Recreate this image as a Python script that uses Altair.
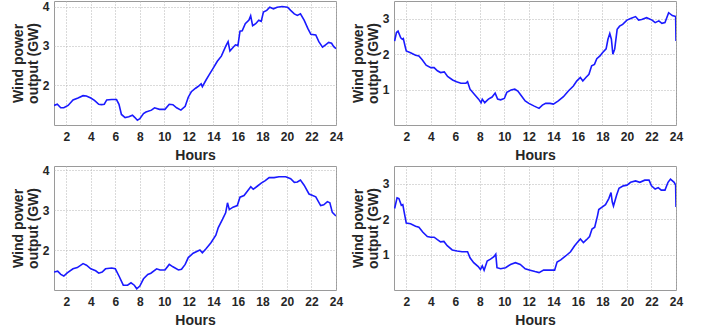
import altair as alt
import pandas as pd

# ---------------- data ----------------
x_ticks = [2, 4, 6, 8, 10, 12, 14, 16, 18, 20, 22, 24]

# Panel 1 (top-left)
p1_hours = [1.0, 1.27, 1.55, 1.8, 2.15, 2.55, 2.96, 3.37, 3.64, 4.0, 4.3, 4.65, 4.87, 5.1,
            5.3, 5.7, 6.1, 6.3, 6.5, 6.8, 7.1, 7.4, 7.6, 7.8, 8.0, 8.3, 8.5, 8.95, 9.2,
            9.6, 10.05, 10.4, 10.7, 11.0, 11.35, 11.7, 11.95, 12.2, 12.55, 12.82, 13.0,
            13.1, 13.4, 13.65, 14.0, 14.32, 14.65, 15.0, 15.2, 15.35, 15.6, 15.8, 16.0,
            16.17, 16.35, 16.6, 16.9, 17.04, 17.2, 17.45, 17.7, 17.9, 18.08, 18.35, 18.6,
            18.9, 19.2, 19.6, 20.05, 20.3, 20.6, 20.85, 21.1, 21.4, 21.7, 21.95, 22.35,
            22.6, 22.9, 23.15, 23.4, 23.64, 23.8, 24.0]
p1_gw = [1.48, 1.51, 1.42, 1.42, 1.48, 1.62, 1.67, 1.73, 1.72, 1.67, 1.61, 1.51, 1.50, 1.51,
         1.62, 1.63, 1.63, 1.51, 1.25, 1.17, 1.19, 1.23, 1.17, 1.10, 1.14, 1.27, 1.31, 1.36, 1.42,
         1.38, 1.38, 1.51, 1.50, 1.42, 1.36, 1.46, 1.69, 1.83, 1.92, 1.98, 2.03,
         1.96, 2.13, 2.26, 2.44, 2.61, 2.74, 2.99, 3.11, 2.87, 2.96, 3.03, 3.01,
         3.38, 3.39, 3.57, 3.66, 3.77, 3.52, 3.57, 3.66, 3.63, 3.87, 3.91, 3.99,
         3.95, 3.99, 4.01, 3.99, 3.91, 3.82, 3.78, 3.82, 3.66, 3.45, 3.30, 3.28,
         3.11, 2.97, 3.03, 3.09, 3.07, 2.99, 2.93]

# Panel 2 (top-right)
p2_hours = [1.05, 1.2, 1.33, 1.55, 1.68, 1.76, 1.9, 2.0, 2.35, 2.76, 3.03, 3.3, 3.62, 4.0,
            4.27, 4.54, 4.8, 5.1, 5.37, 5.78, 6.1, 6.46, 6.87, 7.0, 7.2, 7.55, 7.9, 8.1,
            8.2, 8.4, 8.7, 9.0, 9.25, 9.45, 9.7, 10.0, 10.2, 10.55, 10.85, 11.1, 11.4,
            11.7, 12.0, 12.4, 12.83, 13.1, 13.37, 13.73, 14.0, 14.4, 14.82, 15.22, 15.63,
            15.9, 16.2, 16.4, 16.65, 16.9, 17.12, 17.35, 17.54, 17.8, 18.0, 18.3, 18.45,
            18.6, 18.73, 18.85, 19.0, 19.2, 19.4, 19.65, 20.0, 20.35, 20.7, 20.95, 21.2,
            21.6, 22.05, 22.3, 22.6, 22.85, 23.1, 23.4, 23.7, 23.97, 24.0]
p2_gw = [2.37, 2.61, 2.65, 2.46, 2.42, 2.44, 2.23, 2.09, 2.04, 1.97, 1.95, 1.84, 1.69, 1.62,
         1.62, 1.53, 1.48, 1.50, 1.37, 1.27, 1.22, 1.18, 1.18, 1.22, 1.01, 0.87, 0.73, 0.63,
         0.73, 0.63, 0.73, 0.79, 0.90, 0.73, 0.71, 0.75, 0.92, 0.99, 1.01, 0.96, 0.82,
         0.68, 0.61, 0.54, 0.47, 0.56, 0.61, 0.61, 0.59, 0.68, 0.80, 0.96, 1.10,
         1.24, 1.34, 1.24, 1.34, 1.43, 1.67, 1.71, 1.87, 1.95, 2.04, 2.15, 2.42,
         2.58, 2.42, 2.00, 2.14, 2.70, 2.79, 2.84, 2.96, 3.01, 3.06, 2.96, 2.98,
         3.03, 2.96, 2.89, 2.94, 2.87, 2.89, 3.17, 3.09, 3.06, 2.37]

# Panel 3 (bottom-left)
p3_hours = [1.0, 1.3, 1.55, 1.8, 2.08, 2.55, 2.9, 3.37, 3.65, 4.0, 4.4, 4.65, 4.93, 5.2,
            5.7, 6.0, 6.3, 6.65, 7.0, 7.28, 7.55, 7.75, 8.0, 8.3, 8.65, 8.9, 9.37, 9.65,
            10.05, 10.4, 10.7, 11.15, 11.4, 11.7, 11.95, 12.35, 12.9, 13.1, 13.4, 13.8,
            14.2, 14.4, 14.75, 15.0, 15.15, 15.3, 15.6, 15.95, 16.17, 16.5, 16.8, 17.05,
            17.25, 17.6, 17.9, 18.2, 18.55, 18.95, 19.35, 19.9, 20.3, 20.6, 20.85, 21.1,
            21.4, 21.8, 22.1, 22.35, 22.75, 23.0, 23.3, 23.5, 23.7, 24.0]
p3_gw = [1.45, 1.47, 1.39, 1.35, 1.43, 1.53, 1.56, 1.66, 1.62, 1.53, 1.48, 1.42, 1.45, 1.53,
         1.55, 1.53, 1.35, 1.12, 1.12, 1.18, 1.12, 1.03, 1.10, 1.28, 1.39, 1.42, 1.53, 1.50,
         1.50, 1.64, 1.58, 1.50, 1.52, 1.64, 1.81, 1.92, 2.00, 1.93, 2.03, 2.18,
         2.37, 2.56, 2.77, 2.93, 3.18, 3.01, 3.07, 3.11, 3.32, 3.36, 3.48, 3.58,
         3.52, 3.60, 3.67, 3.73, 3.81, 3.81, 3.83, 3.83, 3.78, 3.69, 3.70, 3.75,
         3.62, 3.40, 3.36, 3.33, 3.11, 3.13, 3.21, 3.18, 2.94, 2.85]

# Panel 4 (bottom-right)
p4_hours = [1.05, 1.25, 1.4, 1.6, 1.72, 1.83, 2.0, 2.35, 2.76, 3.03, 3.36, 3.72, 4.0, 4.27,
            4.54, 4.8, 5.07, 5.34, 5.75, 6.15, 6.55, 7.0, 7.2, 7.5, 7.87, 8.05, 8.2, 8.35,
            8.6, 8.87, 9.15, 9.3, 9.4, 9.7, 10.1, 10.5, 10.9, 11.3, 11.7, 12.1, 12.5,
            12.83, 13.2, 13.65, 14.1, 14.3, 14.6, 15.0, 15.4, 15.73, 16.0, 16.2, 16.45,
            16.7, 16.95, 17.15, 17.37, 17.6, 17.7, 17.97, 18.25, 18.52, 18.7, 18.8, 18.9,
            19.16, 19.35, 19.7, 20.0, 20.3, 20.7, 21.05, 21.45, 21.8, 22.0, 22.3, 22.55,
            22.8, 23.1, 23.35, 23.55, 23.85, 23.97, 24.0]
p4_gw = [2.30, 2.60, 2.58, 2.39, 2.41, 2.20, 1.89, 1.87, 1.80, 1.77, 1.63, 1.51, 1.49, 1.49,
         1.42, 1.36, 1.37, 1.25, 1.13, 1.10, 1.08, 1.08, 0.91, 0.77, 0.66, 0.58, 0.68, 0.56,
         0.82, 0.87, 0.94, 1.01, 0.63, 0.60, 0.63, 0.72, 0.77, 0.72, 0.60, 0.56, 0.52,
         0.49, 0.56, 0.56, 0.56, 0.79, 0.85, 0.96, 1.08, 1.25, 1.36, 1.44, 1.34,
         1.42, 1.51, 1.72, 1.77, 2.10, 2.27, 2.34, 2.41, 2.58, 2.75, 2.49, 2.37,
         2.68, 2.87, 2.94, 2.96, 3.04, 3.08, 3.04, 3.10, 3.10, 2.94, 2.85, 2.89,
         2.82, 2.82, 3.04, 3.13, 3.04, 2.96, 2.34]

FONT = "Liberation Sans"
TEXT = "#262626"


def panel(hours, gw, ydomain, yticks):
    df = pd.DataFrame({"h": hours, "v": gw})
    return (
        alt.Chart(df)
        .mark_line(color="#1a1aff", strokeWidth=1.6, clip=True)
        .encode(
            x=alt.X("h:Q",
                    scale=alt.Scale(domain=[1, 24], nice=False, zero=False),
                    axis=alt.Axis(values=x_ticks, title="Hours", labelFlush=False)),
            y=alt.Y("v:Q",
                    scale=alt.Scale(domain=ydomain, nice=False, zero=False),
                    axis=alt.Axis(values=yticks, title=["Wind power", "output (GW)"])),
        )
        .properties(width=282, height=124)
    )


c1 = panel(p1_hours, p1_gw, [0.98, 4.15], [2, 3, 4])
c2 = panel(p2_hours, p2_gw, [0, 3.5], [1, 2, 3])
c3 = panel(p3_hours, p3_gw, [1.0, 4.1], [2, 3, 4])
c4 = panel(p4_hours, p4_gw, [0, 3.5], [1, 2, 3])

chart = (
    alt.vconcat(
        alt.hconcat(c1, c2, spacing=6),
        alt.hconcat(c3, c4, spacing=6),
        spacing=0,
    )
    .properties(padding={"left": 10, "top": 0, "right": 0, "bottom": 0}, background="white")
    .configure_view(stroke="#9a9a9a", strokeWidth=1)
    .configure_axis(
        labelFont=FONT, labelFontSize=12, labelFontWeight="bold", labelColor=TEXT,
        titleFont=FONT, titleFontSize=14, titleFontWeight="bold", titleColor=TEXT,
        ticks=False, domain=False, labelPadding=5, titlePadding=2,
        grid=True, gridColor="#b4b4b4", gridDash=[1, 2], gridWidth=1,
        titleLineHeight=15,
    )
    .configure_axisX(labelPadding=6, titlePadding=6)
)

chart.save("out.html", embed_options={"renderer": "svg", "actions": False})
